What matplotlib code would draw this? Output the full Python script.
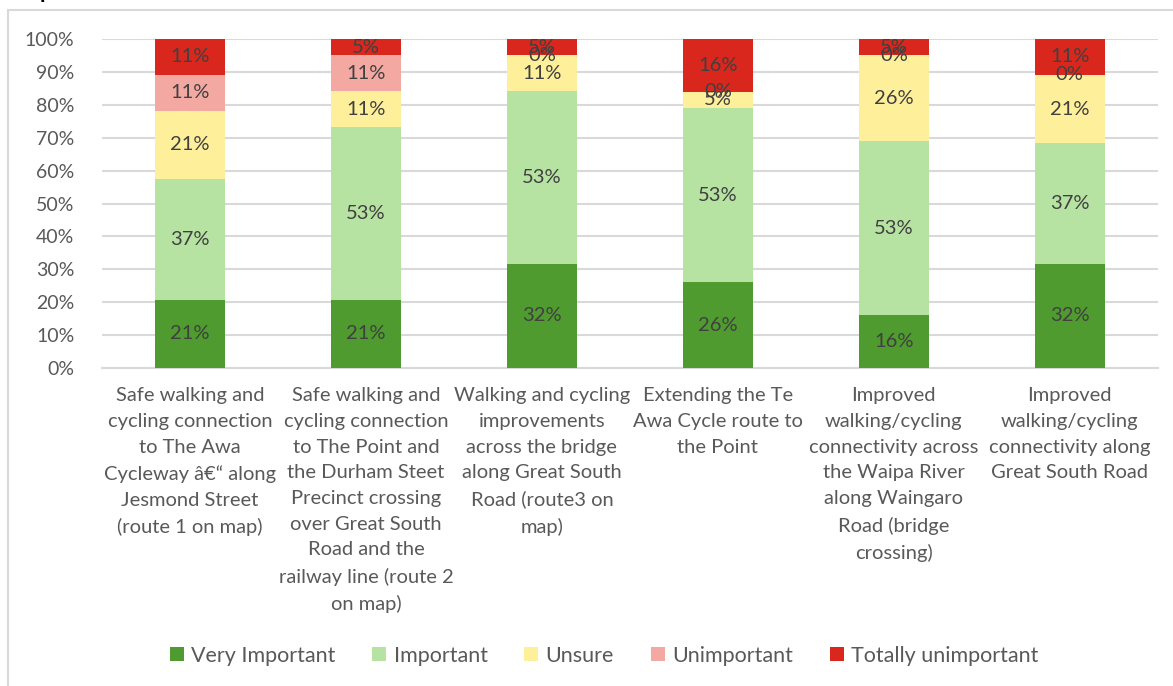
import matplotlib
matplotlib.use("Agg")
import matplotlib.pyplot as plt
from matplotlib.patches import Rectangle

plt.rcParams['font.family'] = ['Lato', 'DejaVu Sans']

# survey routes (x categories)
routes = [
    "Safe walking and\ncycling connection\nto The Awa\nCycleway \u00e2\u20ac\u201c along\nJesmond Street\n(route 1 on map)",
    "Safe walking and\ncycling connection\nto The Point and\nthe Durham Steet\nPrecinct crossing\nover Great South\nRoad and the\nrailway line (route 2\non map)",
    "Walking and cycling\nimprovements\nacross the bridge\nalong Great South\nRoad (route3 on\nmap)",
    "Extending the Te\nAwa Cycle route to\nthe Point",
    "Improved\nwalking/cycling\nconnectivity across\nthe Waipa River\nalong Waingaro\nRoad (bridge\ncrossing)",
    "Improved\nwalking/cycling\nconnectivity along\nGreat South Road",
]

# percentage of responses per answer
very_important = [21, 21, 32, 26, 16, 32]
important = [37, 53, 53, 53, 53, 37]
unsure = [21, 11, 11, 5, 26, 21]
unimportant = [11, 11, 0, 0, 0, 0]
totally_unimportant = [11, 5, 5, 16, 5, 11]

series = [
    ("Very Important", very_important, "#4f9b2f"),
    ("Important", important, "#b6e3a2"),
    ("Unsure", unsure, "#feef9b"),
    ("Unimportant", unimportant, "#f3a9a2"),
    ("Totally unimportant", totally_unimportant, "#d9271d"),
]

# 100% stacked: scale each column to its own total
totals = [sum(col) for col in zip(*[s[1] for s in series])]

fig = plt.figure(figsize=(11.73, 6.86), dpi=100)
ax = fig.add_axes([0.087, 0.4636, 0.9, 0.4795])

x = list(range(len(routes)))
bottom = [0] * len(routes)
for name, vals, col in series:
    h = [v / t * 100 for v, t in zip(vals, totals)]
    ax.bar(x, h, width=0.4, bottom=bottom, color=col, label=name, zorder=3)
    for i, v in enumerate(vals):
        mid = bottom[i] + h[i] / 2
        ax.text(i, mid, f"{v}%", ha="center", va="center", fontsize=14.5,
                color="#404040", zorder=4)
    bottom = [b + hh for b, hh in zip(bottom, h)]

ax.set_xlim(-0.5, len(routes) - 0.5)
ax.set_ylim(0, 100)
ax.set_yticks(range(0, 101, 10))
ax.set_yticklabels([f"{t}%" for t in range(0, 101, 10)])
ax.yaxis.grid(True, color="#d9d9d9", linewidth=1.5, zorder=0)
for s in ["top", "right", "left"]:
    ax.spines[s].set_visible(False)
ax.spines["bottom"].set_color("#d9d9d9")
ax.spines["bottom"].set_linewidth(1.5)
ax.tick_params(axis="both", length=0, labelsize=14, colors="#595959")
ax.tick_params(axis="y", pad=20)
ax.set_xticks(x)
ax.set_xticklabels(routes, linespacing=1.62, fontsize=14.5)
ax.tick_params(axis="x", pad=14)

fig.legend(loc="center", bbox_to_anchor=(0.515, 0.044), ncol=5, frameon=False,
           fontsize=15.5, handlelength=0.65, handleheight=0.65, handletextpad=0.35,
           columnspacing=1.7, labelcolor="#595959")

# chart frame and clipped heading
fig.add_artist(Rectangle((8 / 1173, -0.1), 1.2, 1 - 10 / 686 + 0.1,
                         transform=fig.transFigure, fill=False,
                         edgecolor="#d9d9d9", linewidth=1.5))
fig.text(40 / 1173, 1.012, "p", fontsize=16, fontweight="bold", color="#000000",
         va="center")

fig.savefig("out.png", dpi=100)
